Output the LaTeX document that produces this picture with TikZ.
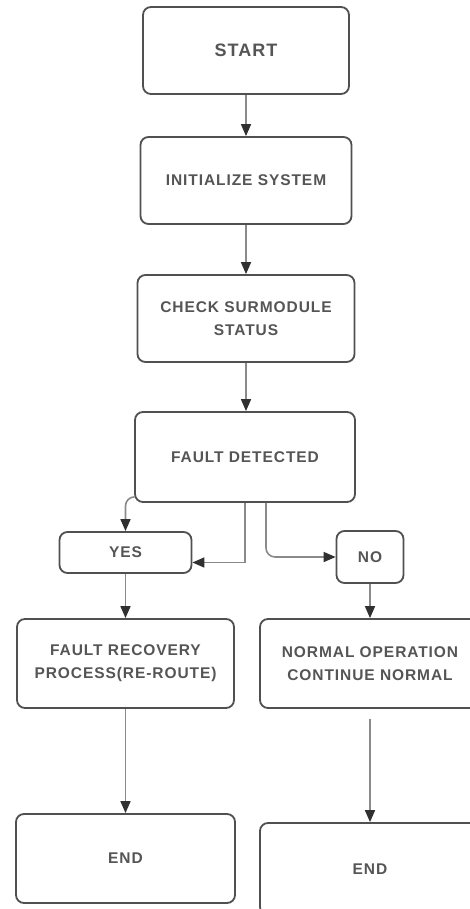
\documentclass[tikz,border=0pt]{standalone}
\usepackage{fontspec}
\setmainfont[LetterSpace=6]{Liberation Sans}
\usetikzlibrary{arrows.meta}
\definecolor{boxline}{HTML}{505050}
\definecolor{txt}{HTML}{555555}
\definecolor{conn}{HTML}{8A8A8A}
\definecolor{tip}{HTML}{303030}
\tikzset{
  box/.style={draw=boxline, line width=1.8pt, rounded corners=8pt, fill=white,
    align=center, text=txt, font=\bfseries\fontsize{15.5}{23}\selectfont, inner sep=0pt},
  conn/.style={draw=conn, line width=1.6pt,
    -{Triangle[length=12pt,width=10pt,color=tip]}},
}
\begin{document}
\begin{tikzpicture}[x=1pt,y=-1pt]
\useasboundingbox (0,0) rectangle (470,909);
\clip (0,0) rectangle (470,909);
\fill[white] (0,0) rectangle (470,909);

\node[box, minimum width=206pt, minimum height=87pt, font=\bfseries\fontsize{18}{23}\selectfont] (start) at (246,50.5) {START};
\node[box, minimum width=211pt, minimum height=87pt] (init) at (246,180.5) {INITIALIZE SYSTEM};
\node[box, minimum width=217pt, minimum height=87pt] (check) at (246,318.5) {CHECK SURMODULE\\STATUS};
\node[box, minimum width=220pt, minimum height=90pt] (fault) at (245,457) {FAULT DETECTED};
\node[box, minimum width=132pt, minimum height=41pt] (yes) at (125.5,552.5) {YES};
\node[box, minimum width=67pt, minimum height=52pt] (no) at (370,557) {NO};
\node[box, minimum width=217pt, minimum height=89pt] (recov) at (125.5,663.5) {FAULT RECOVERY\\PROCESS(RE-ROUTE)};
\node[box, minimum width=220pt, minimum height=89pt] (normal) at (370,663.5) {NORMAL OPERATION\\CONTINUE NORMAL};
\node[box, minimum width=219pt, minimum height=89pt] (end1) at (125.5,858.5) {END};
\node[box, minimum width=220pt, minimum height=92pt] (end2) at (370,869) {END};

\draw[conn] (start) -- (init);
\draw[conn] (init) -- (check);
\draw[conn] (check.south) -- (check.south |- fault.north);
\draw[conn, rounded corners=9pt] ([yshift=6pt]fault.south west) -| (yes.north);
\draw[conn] (fault.south) |- ([yshift=-10pt]yes.east);
\draw[conn, rounded corners=9pt] ([xshift=21pt]fault.south) |- (no.west);
\draw[conn] (yes) -- (recov);
\draw[conn] (no) -- (normal);
\draw[conn] (recov) -- (end1);
\draw[conn, shorten <=10pt] (normal.south) -- (end2.north);
\end{tikzpicture}
\end{document}
